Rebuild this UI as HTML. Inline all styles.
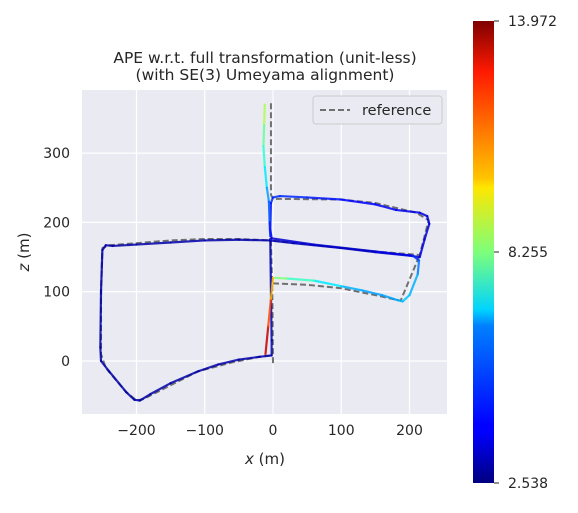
<!DOCTYPE html>
<html><head><meta charset="utf-8"><style>
body{margin:0;background:#fff;width:578px;height:508px;overflow:hidden}
svg text{font-family:"DejaVu Sans","Liberation Sans",sans-serif;fill:#262626}
</style></head><body>
<svg id="chart" width="578" height="508" xmlns="http://www.w3.org/2000/svg">
<defs><linearGradient id="jet" x1="0" y1="1" x2="0" y2="0">
<stop offset="0" stop-color="#00007f"/><stop offset="0.11" stop-color="#0000ff"/><stop offset="0.125" stop-color="#0000ff"/><stop offset="0.34" stop-color="#0080ff"/><stop offset="0.375" stop-color="#00d4ff"/><stop offset="0.5" stop-color="#7dff7a"/><stop offset="0.64" stop-color="#ffe600"/><stop offset="0.66" stop-color="#ffc400"/><stop offset="0.89" stop-color="#ff1a00"/><stop offset="1" stop-color="#7f0000"/></linearGradient>
<clipPath id="clip"><rect x="82" y="90" width="365" height="324"/></clipPath></defs>
<rect x="82" y="90" width="365" height="324" fill="#eaeaf2"/>
<g id="grid"></g>
<g id="ticks"></g>
<g id="series" clip-path="url(#clip)"></g>
<text x="265" y="63" font-size="15.5" text-anchor="middle">APE w.r.t. full transformation (unit-less)</text>
<text x="265" y="80" font-size="15.5" text-anchor="middle">(with SE(3) Umeyama alignment)</text>
<text x="265" y="464" font-size="15" text-anchor="middle"><tspan font-style="italic">x</tspan> (m)</text>
<text transform="translate(29,252) rotate(-90)" font-size="15" text-anchor="middle"><tspan font-style="italic">z</tspan> (m)</text>
<g>
<rect x="313" y="96" width="129" height="28" rx="3" fill="#eaeaf2" stroke="#cccccc" stroke-width="1"/>
<line x1="320" y1="110" x2="350" y2="110" stroke="#707070" stroke-width="2" stroke-dasharray="6,3"/>
<text x="362" y="115" font-size="14.5">reference</text>
</g>
<rect x="473" y="21" width="21" height="462" fill="url(#jet)"/>
<g id="cbticks"></g>
</svg>
<script>
const xTicks=[-200,-100,0,100,200];
const yTicks=[0,100,200,300];
const cbTicks=[2.538,8.255,13.972];
const errMin=2.538, errMax=13.972;
// estimated trajectory (main)
const estX=[-4,-3,-2,-2,-20,-50,-80,-110,-150,-180,-195,-203,-215,-240,-252,-253,-252,-250,-245,-235,-200,-150,-100,-50,-5,30,100,150,200,215,222,229,226,215,180,150,100,50,10,0,-3,-4,-2,60,150,205,214,212,200,190,182,160,130,100,60,20,3];
const estZ=[176,100,30,8,6,2,-5,-15,-32,-48,-57,-56,-45,-15,0,20,100,160,167,166,168,171,174,175,174,170,163,157,152,150,175,198,209,214,218,226,233,236,238,236,228,190,177,168,158,152,145,125,95,86,88,95,102,108,116,119,120];
const estE=[3.1,3.0,3.0,3.1,3.1,3.0,3.0,3.0,3.0,3.0,3.0,3.0,3.0,3.0,3.0,3.0,3.0,3.0,3.0,3.0,3.0,3.0,3.0,3.0,3.1,3.2,3.2,3.2,3.3,3.6,3.6,3.6,3.6,3.6,3.8,3.9,4.1,4.3,4.5,4.5,4.3,4.0,3.6,3.3,3.4,4.0,4.9,5.7,6.2,6.2,5.9,5.7,5.8,6.1,7.1,7.9,8.7];
// top vertical segment
const topX=[-12,-13,-14,-12,-9,-6,-5,-4];
const topZ=[370,340,310,280,250,230,200,180];
const topE=[9.2,8.3,7.6,7.0,6.2,5.3,4.6,4.0];
// high-error bottom segment
const redX=[-11,-7,-3,0];
const redZ=[10,50,90,120];
const redE=[13.9,12.5,11.0,10.0];
// reference paths
const ref1X=[0,-1,-3,-50,-100,-150,-200,-240,-250,-252,-252,-245,-215,-200,-190,-150,-110,-60,-20,-3];
const ref1Z=[-3,100,174,176,176,174,170,167,163,100,10,-10,-45,-57,-55,-35,-15,-2,6,8];
const ref2X=[-3,-3,0,100,150,210,228,215,150,-3];
const ref2Z=[372,240,234,233,228,214,203,153,158,174];
const ref3X=[0,50,100,150,187,215];
const ref3Z=[112,110,105,95,87,153];

const X=v=>273+v*0.6825, Y=v=>361-v*0.693;
const NS='http://www.w3.org/2000/svg';
function mk(t,a,p){const e=document.createElementNS(NS,t);for(const k in a)e.setAttribute(k,a[k]);p.appendChild(e);return e;}
function jet(t){t=Math.max(0,Math.min(1,t));const f=x=>Math.round(255*Math.max(0,Math.min(1,1.5-Math.abs(4*t-x))));return `rgb(${f(3)},${f(2)},${f(1)})`;}
const grid=document.getElementById('grid'),ticks=document.getElementById('ticks'),ser=document.getElementById('series'),cb=document.getElementById('cbticks');
xTicks.forEach(v=>{const l=mk('line',{x1:X(v),x2:X(v),y1:90,y2:414,stroke:'#fff','stroke-width':1.2},grid);

const t=mk('text',{x:X(v),y:435,'font-size':14,'text-anchor':'middle'},ticks);t.textContent=v<0?'\u2212'+(-v):v;
});
yTicks.forEach(v=>{const l=mk('line',{x1:82,x2:447,y1:Y(v),y2:Y(v),stroke:'#fff','stroke-width':1.2},grid);

const t=mk('text',{x:70,y:Y(v)+5,'font-size':14,'text-anchor':'end'},ticks);t.textContent=v;
});
function est(xs,zs,es){for(let i=0;i<xs.length-1;i++){const e=(es[i]+es[i+1])/2;
const s=mk('line',{x1:X(xs[i]),y1:Y(zs[i]),x2:X(xs[i+1]),y2:Y(zs[i+1]),stroke:jet((e-errMin)/(errMax-errMin)),'stroke-width':2.2,'stroke-linecap':'round','stroke-opacity':0.85},ser);
}}
function ref(xs,zs,name){const p=mk('polyline',{points:xs.map((x,i)=>X(x)+','+Y(zs[i])).join(' '),fill:'none',stroke:'#707070','stroke-width':2,'stroke-dasharray':'6,3','stroke-linejoin':'round'},ser);
}
ref(ref1X,ref1Z,'reference-path-main');ref(ref2X,ref2Z,'reference-path-top');ref(ref3X,ref3Z,'reference-path-lower');
est(estX,estZ,estE);est(topX,topZ,topE);est(redX,redZ,redE);
cbTicks.forEach(v=>{const y=483-(v-errMin)/(errMax-errMin)*462;
const l=mk('line',{x1:494,x2:499,y1:y,y2:y,stroke:'#262626','stroke-width':1},cb);

const t=mk('text',{x:508,y:y+5,'font-size':14},cb);t.textContent=v.toFixed(3);
});
</script>
</body></html>
